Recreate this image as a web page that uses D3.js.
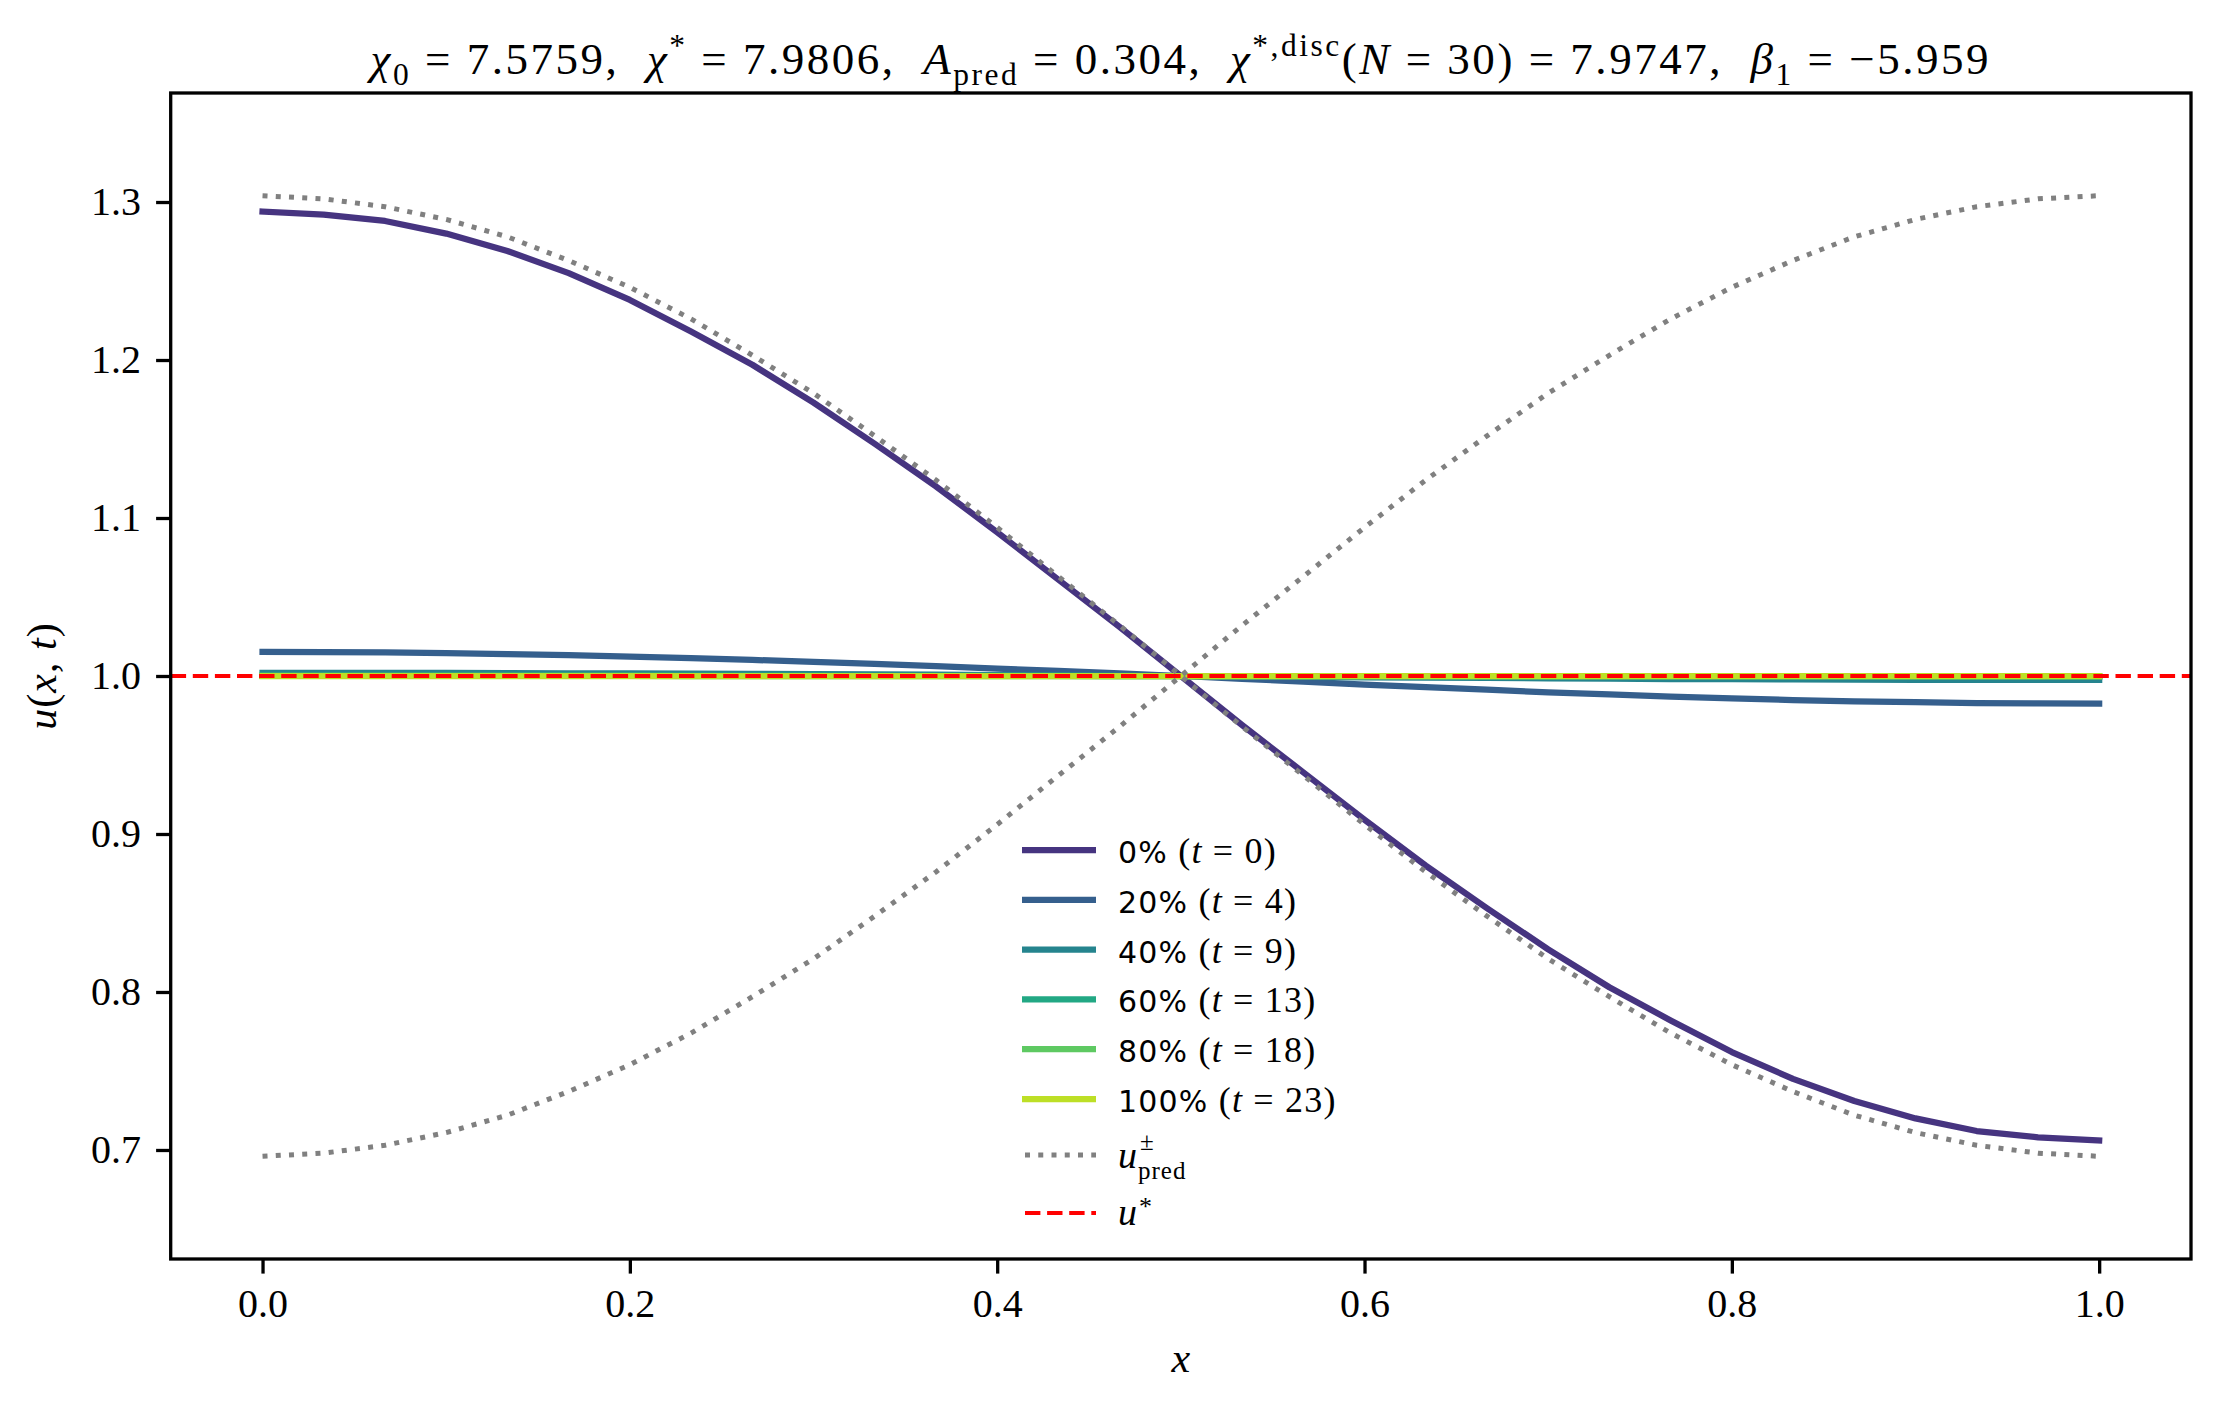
<!DOCTYPE html>
<html>
<head>
<meta charset="utf-8">
<script src="https://cdn.jsdelivr.net/npm/d3@7"></script>
<style>
  body { margin: 0; background: #fff; }
  text { white-space: pre; }
</style>
</head>
<body>
<svg id="canvas" width="2220" height="1409"></svg>
<script>
// grid points x_i = i/30
const xGrid = [0, 0.0333, 0.0667, 0.1, 0.1333, 0.1667, 0.2, 0.2333, 0.2667, 0.3,
  0.3333, 0.3667, 0.4, 0.4333, 0.4667, 0.5, 0.5333, 0.5667, 0.6, 0.6333,
  0.6667, 0.7, 0.7333, 0.7667, 0.8, 0.8333, 0.8667, 0.9, 0.9333, 0.9667, 1.0];

const u0 = [1.294, 1.292, 1.288, 1.280, 1.269, 1.255, 1.238, 1.218, 1.197, 1.173,
  1.147, 1.120, 1.091, 1.061, 1.031, 1.000, 0.969, 0.939, 0.909, 0.880,
  0.853, 0.827, 0.803, 0.782, 0.762, 0.745, 0.731, 0.720, 0.712, 0.708, 0.706];
const u4 = [1.0152, 1.0151, 1.0149, 1.0145, 1.0139, 1.0132, 1.0123, 1.0113, 1.0102, 1.0089,
  1.0076, 1.0062, 1.0047, 1.0032, 1.0016, 1.0000, 0.9982, 0.9964, 0.9946, 0.9929,
  0.9913, 0.9897, 0.9883, 0.9870, 0.9858, 0.9848, 0.9840, 0.9834, 0.9829, 0.9826, 0.9825];
const u9 = [1.0020, 1.0020, 1.0020, 1.0019, 1.0018, 1.0017, 1.0016, 1.0015, 1.0013, 1.0012,
  1.0010, 1.0008, 1.0006, 1.0004, 1.0002, 1.0000, 0.9997, 0.9995, 0.9992, 0.9990,
  0.9988, 0.9985, 0.9983, 0.9981, 0.9980, 0.9978, 0.9977, 0.9976, 0.9976, 0.9975, 0.9975];
const u13 = [1.0003, 1.0003, 1.0003, 1.0003, 1.0003, 1.0003, 1.0002, 1.0002, 1.0002, 1.0002,
  1.0001, 1.0001, 1.0001, 1.0001, 1.0000, 1.0000, 1.0000, 0.9999, 0.9999, 0.9999,
  0.9998, 0.9998, 0.9998, 0.9997, 0.9997, 0.9997, 0.9997, 0.9996, 0.9996, 0.9996, 0.9996];
const u18 = [1.0001, 1.0001, 1.0001, 1.0001, 1.0001, 1.0001, 1.0001, 1.0000, 1.0000, 1.0000,
  1.0000, 1.0000, 1.0000, 1.0000, 1.0000, 1.0000, 1.0000, 1.0000, 1.0000, 1.0000,
  1.0000, 1.0000, 1.0000, 1.0000, 0.9999, 0.9999, 0.9999, 0.9999, 0.9999, 0.9999, 0.9999];
const u23 = [1.0000, 1.0000, 1.0000, 1.0000, 1.0000, 1.0000, 1.0000, 1.0000, 1.0000, 1.0000,
  1.0000, 1.0000, 1.0000, 1.0000, 1.0000, 1.0000, 1.0000, 1.0000, 1.0000, 1.0000,
  1.0000, 1.0000, 1.0000, 1.0000, 1.0000, 1.0000, 1.0000, 1.0000, 1.0000, 1.0000, 1.0000];

const uPredPlus = [1.304, 1.302, 1.297, 1.289, 1.278, 1.263, 1.246, 1.226, 1.203, 1.179,
  1.152, 1.124, 1.094, 1.063, 1.032, 1.000, 0.968, 0.937, 0.906, 0.876,
  0.848, 0.821, 0.797, 0.774, 0.754, 0.737, 0.722, 0.711, 0.703, 0.698, 0.696];
const uPredMinus = [0.696, 0.698, 0.703, 0.711, 0.722, 0.737, 0.754, 0.774, 0.797, 0.821,
  0.848, 0.876, 0.906, 0.937, 0.968, 1.000, 1.032, 1.063, 1.094, 1.124,
  1.152, 1.179, 1.203, 1.226, 1.246, 1.263, 1.278, 1.289, 1.297, 1.302, 1.304];
const uStar = 1.0;

const snapshots = [u0, u4, u9, u13, u18, u23];
const percents = ["0%", "20%", "40%", "60%", "80%", "100%"];
const tSteps = [0, 4, 9, 13, 18, 23];
const cmapPos = [0.15, 0.3, 0.45, 0.6, 0.75, 0.9];

const xTicks = [0, 0.2, 0.4, 0.6, 0.8, 1.0];
const yTicks = [0.7, 0.8, 0.9, 1.0, 1.1, 1.2, 1.3];

const chi0 = "7.5759", chiStar = "7.9806", aPred = "0.304",
  chiDisc = "7.9747", nDisc = "30", beta1 = "\u22125.959";

const serif = "'Liberation Serif', 'DejaVu Serif', serif";
const sans = "'DejaVu Sans', 'Liberation Sans', sans-serif";

const canvas = d3.select("#canvas");

const axLeft = 170.7, axRight = 2191, axTop = 93, axBottom = 1259;
const lw = 6.25;

const xScale = d3.scaleLinear().domain([-0.05, 1.05]).range([axLeft, axRight]);
const yScale = d3.scaleLinear().domain([0.631, 1.369]).range([axBottom, axTop]);

const line = d3.line()
  .x((d, i) => xScale(xGrid[i]))
  .y((d) => yScale(d));

// rich text: parts = [{t, it, sub, sup, sans}]
const addRich = (textSel, parts, size) => {
  let shift = 0;
  parts.forEach((p) => {
    const target = p.sub ? 0.24 * size : p.sup ? -0.4 * size : 0;
    textSel.append("tspan")
      .text(p.t)
      .attr("dy", target - shift)
      .style("font-size", (p.sub || p.sup ? 0.7 * size : size) + "px")
      .style("font-style", p.it ? "italic" : "normal")
      .style("font-family", p.sans ? sans : serif);
    shift = target;
  });
  return textSel;
};

// snapshot curves
snapshots.forEach((s, k) => {
  canvas.append("path")
    .datum(s)
    .attr("d", line)
    .attr("fill", "none")
    .attr("stroke", d3.interpolateViridis(cmapPos[k]))
    .attr("stroke-width", lw)
    .attr("stroke-linejoin", "round")
    .attr("stroke-linecap", "square");
});

// predicted profiles
[uPredPlus, uPredMinus].forEach((s) => {
  canvas.append("path")
    .datum(s)
    .attr("d", line)
    .attr("fill", "none")
    .attr("stroke", "#808080")
    .attr("stroke-width", 5)
    .attr("stroke-dasharray", "5,8.25");
});

// u* reference line
canvas.append("line")
  .attr("x1", axLeft).attr("x2", axRight)
  .attr("y1", yScale(uStar)).attr("y2", yScale(uStar))
  .attr("stroke", "red")
  .attr("stroke-width", 4.17)
  .attr("stroke-dasharray", "15.4,6.7");

// axes
const xAxis = d3.axisBottom(xScale).tickValues(xTicks)
  .tickFormat(d3.format(".1f")).tickSize(14.6).tickPadding(15);
const yAxis = d3.axisLeft(yScale).tickValues(yTicks)
  .tickFormat(d3.format(".1f")).tickSize(14.6).tickPadding(15);

const gx = canvas.append("g").attr("transform", `translate(0,${axBottom})`).call(xAxis);
const gy = canvas.append("g").attr("transform", `translate(${axLeft},0)`).call(yAxis);
[gx, gy].forEach((g) => {
  g.select(".domain").remove();
  g.selectAll(".tick line").attr("stroke", "#000").attr("stroke-width", 3.3);
  g.selectAll(".tick text")
    .attr("fill", "#000")
    .style("font-family", serif)
    .style("font-size", "40px");
});

canvas.append("rect")
  .attr("x", axLeft).attr("y", axTop)
  .attr("width", axRight - axLeft).attr("height", axBottom - axTop)
  .attr("fill", "none")
  .attr("stroke", "#000")
  .attr("stroke-width", 3.3);

// axis labels
canvas.append("text")
  .attr("x", (axLeft + axRight) / 2).attr("y", 1372)
  .attr("text-anchor", "middle")
  .style("font-family", serif).style("font-style", "italic").style("font-size", "42px")
  .text("x");

addRich(
  canvas.append("text")
    .attr("transform", `translate(56,${(axTop + axBottom) / 2}) rotate(-90)`)
    .attr("text-anchor", "middle")
    .style("letter-spacing", "1px"),
  [{ t: "u", it: true }, { t: "(" }, { t: "x", it: true }, { t: ", " }, { t: "t", it: true }, { t: ")" }],
  42
);

// title: sized like the original, spread to the original width
const titleParts = [
  { t: "\u03c7", it: true }, { t: "0", sub: true }, { t: ` = ${chi0},  ` },
  { t: "\u03c7", it: true }, { t: "*", sup: true }, { t: ` = ${chiStar},  ` },
  { t: "A", it: true }, { t: "pred", sub: true }, { t: ` = ${aPred},  ` },
  { t: "\u03c7", it: true }, { t: "*,disc", sup: true }, { t: "(" }, { t: "N", it: true },
  { t: ` = ${nDisc}) = ${chiDisc},  ` },
  { t: "\u03b2", it: true }, { t: "1", sub: true }, { t: ` = ${beta1}` }
];
const title = addRich(
  canvas.append("text")
    .attr("x", (axLeft + axRight) / 2).attr("y", 74)
    .attr("text-anchor", "middle"),
  titleParts, 45
);
const tw = title.node().getBBox().width;
const nChars = titleParts.reduce((a, p) => a + p.t.length, 0);
title.style("letter-spacing", Math.max(0, (1622 - tw) / (nChars - 1)) + "px");

// legend
const legX0 = 1022, legX1 = 1096, legTx = 1118;
const rowY = (i) => (i < 6 ? 850 + i * 49.8 : i === 6 ? 1155 : 1213);
const legSize = 36;

snapshots.forEach((s, k) => {
  const y = rowY(k);
  canvas.append("line")
    .attr("x1", legX0).attr("x2", legX1).attr("y1", y).attr("y2", y)
    .attr("stroke", d3.interpolateViridis(cmapPos[k]))
    .attr("stroke-width", lw);
  const txt = canvas.append("text").attr("x", legTx).attr("y", y + 13);
  txt.append("tspan").text(percents[k])
    .style("font-family", sans).style("font-size", "30px");
  addRich(txt, [{ t: " (" }, { t: "t", it: true }, { t: ` = ${tSteps[k]})` }], legSize)
    .selectAll("tspan").style("letter-spacing", "1.2px");
});

// u_pred entry: u with stacked ± and pred in one text
{
  const y = rowY(6);
  canvas.append("line")
    .attr("x1", legX0 + 3).attr("x2", legX1).attr("y1", y).attr("y2", y)
    .attr("stroke", "#808080").attr("stroke-width", 5)
    .attr("stroke-dasharray", "5,8.25");
  const txt = canvas.append("text").attr("x", legTx).attr("y", y + 13)
    .style("font-family", serif);
  const u = txt.append("tspan").text("u")
    .style("font-style", "italic").style("font-size", "38px");
  const uw = u.node().getComputedTextLength();
  txt.append("tspan").text("\u00b1")
    .attr("x", legTx + uw + 3).attr("dy", -18)
    .style("font-size", "25px");
  txt.append("tspan").text("pred")
    .attr("x", legTx + uw + 1).attr("dy", 29)
    .style("font-size", "25px").style("letter-spacing", "1px");
}

// u* entry
{
  const y = rowY(7);
  canvas.append("line")
    .attr("x1", legX0 + 3).attr("x2", legX1).attr("y1", y).attr("y2", y)
    .attr("stroke", "red").attr("stroke-width", 4.17)
    .attr("stroke-dasharray", "15.4,6.7");
  const txt = canvas.append("text").attr("x", legTx).attr("y", y + 12)
    .style("font-family", serif);
  const u = txt.append("tspan").text("u")
    .style("font-style", "italic").style("font-size", "38px");
  const uw = u.node().getComputedTextLength();
  txt.append("tspan").text("*")
    .attr("x", legTx + uw + 2).attr("dy", -10)
    .style("font-size", "26px");
}
</script>
</body>
</html>
